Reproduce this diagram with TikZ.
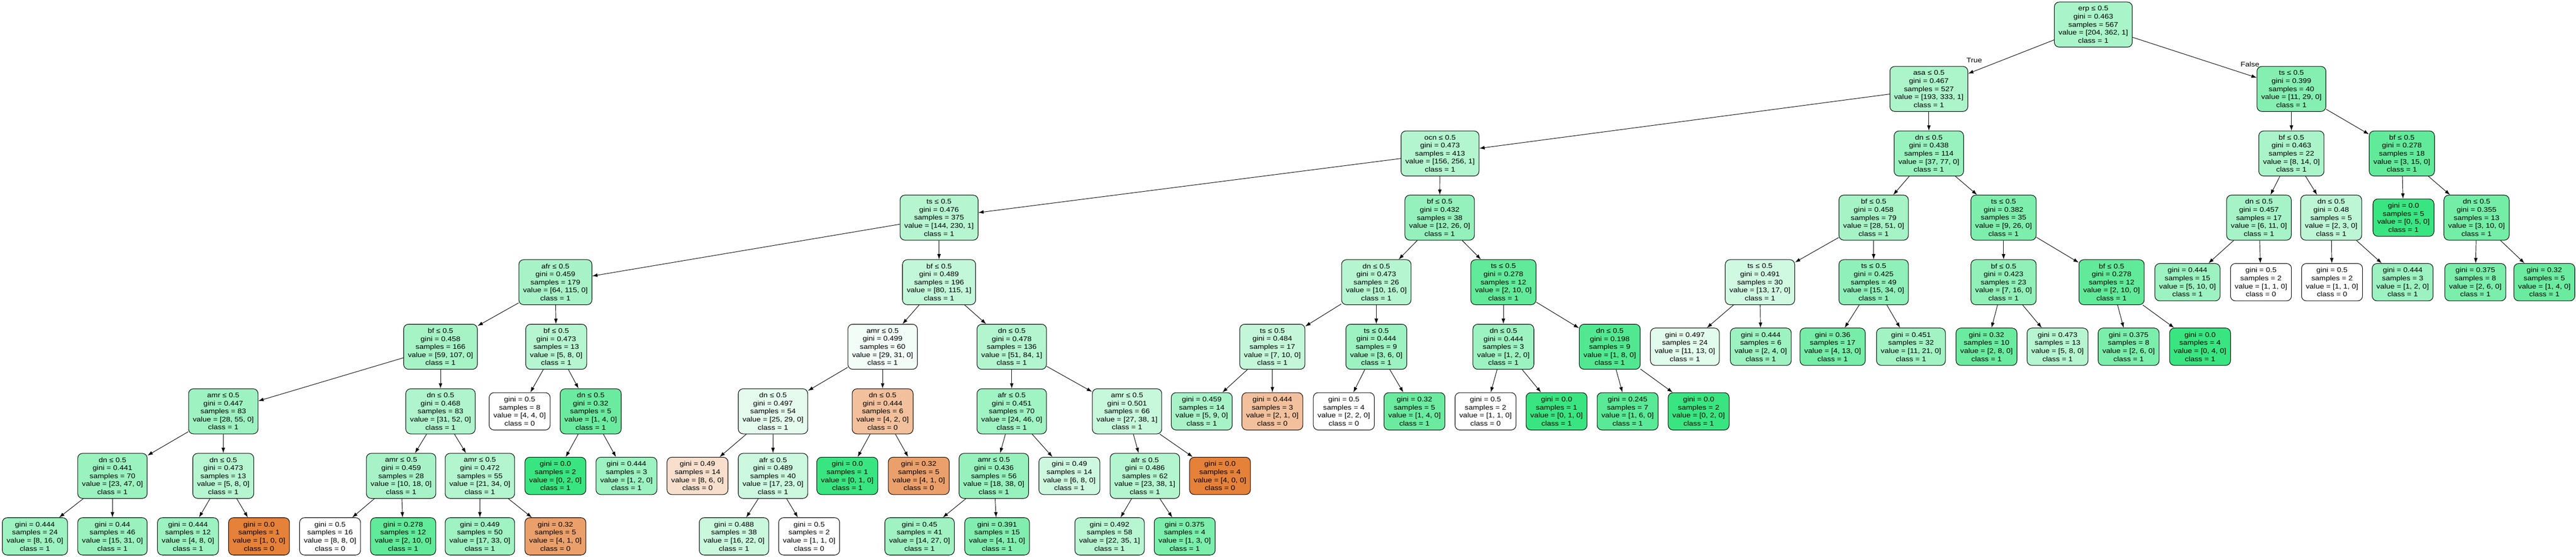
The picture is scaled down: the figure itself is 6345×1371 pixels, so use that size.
\documentclass[tikz,border=0pt]{standalone}
\usepackage{fontspec}
\setmainfont{Liberation Sans}[FakeStretch=1.14]
\usetikzlibrary{arrows.meta}
\definecolor{cg}{RGB}{57,229,129}
\definecolor{co}{RGB}{229,129,57}
\newcommand{\nodefnt}{\fontsize{8.25pt}{9.9pt}\selectfont}
\tikzset{
  tnode/.style={draw=black, line width=0.65pt, rounded corners=6pt, align=center,
    inner xsep=5.25pt, inner ysep=0pt, font=\nodefnt, text=black},
  split/.style={tnode, minimum height=55.5pt},
  leaf/.style={tnode, minimum height=46pt},
  conn/.style={-{Latex[length=6.5pt,width=4.5pt]}, line width=0.6pt, draw=black},
  elabel/.style={font=\nodefnt, inner sep=0pt}
}
\begin{document}
\begin{tikzpicture}[x=0.5pt, y=-0.5pt]
\useasboundingbox[fill=white] (0,0) rectangle (6345,1371);
% row 0
\node[split, fill=cg!43.5!white] (n0) at (5156,60.5) {erp ≤ 0.5\\gini = 0.463\\samples = 567\\value = [204, 362, 1]\\class = 1};
% row 1
\node[split, fill=cg!41.9!white] (n1) at (4751,219) {asa ≤ 0.5\\gini = 0.467\\samples = 527\\value = [193, 333, 1]\\class = 1};
\node[split, fill=cg!62.1!white] (n2) at (5644,219) {ts ≤ 0.5\\gini = 0.399\\samples = 40\\value = [11, 29, 0]\\class = 1};
% row 2
\node[split, fill=cg!38.9!white] (n3) at (3547,378) {ocn ≤ 0.5\\gini = 0.473\\samples = 413\\value = [156, 256, 1]\\class = 1};
\node[split, fill=cg!51.9!white] (n4) at (4751,378) {dn ≤ 0.5\\gini = 0.438\\samples = 114\\value = [37, 77, 0]\\class = 1};
\node[split, fill=cg!42.9!white] (n5) at (5644,378) {bf ≤ 0.5\\gini = 0.463\\samples = 22\\value = [8, 14, 0]\\class = 1};
\node[split, fill=cg!80!white] (n6) at (5916,378) {bf ≤ 0.5\\gini = 0.278\\samples = 18\\value = [3, 15, 0]\\class = 1};
% row 3
\node[split, fill=cg!37.2!white] (n7) at (2313,536) {ts ≤ 0.5\\gini = 0.476\\samples = 375\\value = [144, 230, 1]\\class = 1};
\node[split, fill=cg!53.8!white] (n8) at (3546,536) {bf ≤ 0.5\\gini = 0.432\\samples = 38\\value = [12, 26, 0]\\class = 1};
\node[split, fill=cg!45.1!white] (n9) at (4615,536) {bf ≤ 0.5\\gini = 0.458\\samples = 79\\value = [28, 51, 0]\\class = 1};
\node[split, fill=cg!65.4!white] (n10) at (4935,536) {ts ≤ 0.5\\gini = 0.382\\samples = 35\\value = [9, 26, 0]\\class = 1};
\node[split, fill=cg!45.5!white] (n11) at (5564,536) {dn ≤ 0.5\\gini = 0.457\\samples = 17\\value = [6, 11, 0]\\class = 1};
\node[split, fill=cg!33.3!white] (n12) at (5742,536) {dn ≤ 0.5\\gini = 0.48\\samples = 5\\value = [2, 3, 0]\\class = 1};
\node[leaf, fill=cg] (n13) at (5920,536) {gini = 0.0\\samples = 5\\value = [0, 5, 0]\\class = 1};
\node[split, fill=cg!70!white] (n14) at (6100,536) {dn ≤ 0.5\\gini = 0.355\\samples = 13\\value = [3, 10, 0]\\class = 1};
% row 4
\node[split, fill=cg!44.3!white] (n15) at (1368,695) {afr ≤ 0.5\\gini = 0.459\\samples = 179\\value = [64, 115, 0]\\class = 1};
\node[split, fill=cg!30.2!white] (n16) at (2313,695) {bf ≤ 0.5\\gini = 0.489\\samples = 196\\value = [80, 115, 1]\\class = 1};
\node[split, fill=cg!37.5!white] (n17) at (3390,695) {dn ≤ 0.5\\gini = 0.473\\samples = 26\\value = [10, 16, 0]\\class = 1};
\node[split, fill=cg!80!white] (n18) at (3703,695) {ts ≤ 0.5\\gini = 0.278\\samples = 12\\value = [2, 10, 0]\\class = 1};
\node[split, fill=cg!23.5!white] (n19) at (4335,695) {ts ≤ 0.5\\gini = 0.491\\samples = 30\\value = [13, 17, 0]\\class = 1};
\node[split, fill=cg!55.9!white] (n20) at (4615,695) {ts ≤ 0.5\\gini = 0.425\\samples = 49\\value = [15, 34, 0]\\class = 1};
\node[split, fill=cg!56.25!white] (n21) at (4935,695) {bf ≤ 0.5\\gini = 0.423\\samples = 23\\value = [7, 16, 0]\\class = 1};
\node[split, fill=cg!80!white] (n22) at (5201,695) {bf ≤ 0.5\\gini = 0.278\\samples = 12\\value = [2, 10, 0]\\class = 1};
\node[leaf, fill=cg!50!white] (n23) at (5388,695) {gini = 0.444\\samples = 15\\value = [5, 10, 0]\\class = 1};
\node[leaf, fill=white] (n24) at (5569,695) {gini = 0.5\\samples = 2\\value = [1, 1, 0]\\class = 0};
\node[leaf, fill=white] (n25) at (5744,695) {gini = 0.5\\samples = 2\\value = [1, 1, 0]\\class = 0};
\node[leaf, fill=cg!50!white] (n26) at (5918,695) {gini = 0.444\\samples = 3\\value = [1, 2, 0]\\class = 1};
\node[leaf, fill=cg!66.7!white] (n27) at (6097,695) {gini = 0.375\\samples = 8\\value = [2, 6, 0]\\class = 1};
\node[leaf, fill=cg!75!white] (n28) at (6267,695) {gini = 0.32\\samples = 5\\value = [1, 4, 0]\\class = 1};
% row 5
\node[split, fill=cg!44.9!white] (n29) at (1085,854) {bf ≤ 0.5\\gini = 0.458\\samples = 166\\value = [59, 107, 0]\\class = 1};
\node[split, fill=cg!37.5!white] (n30) at (1370,854) {bf ≤ 0.5\\gini = 0.473\\samples = 13\\value = [5, 8, 0]\\class = 1};
\node[split, fill=cg!6.45!white] (n31) at (2174,854) {amr ≤ 0.5\\gini = 0.499\\samples = 60\\value = [29, 31, 0]\\class = 1};
\node[split, fill=cg!38.8!white] (n32) at (2492,854) {dn ≤ 0.5\\gini = 0.478\\samples = 136\\value = [51, 84, 1]\\class = 1};
\node[split, fill=cg!30!white] (n33) at (3134,854) {ts ≤ 0.5\\gini = 0.484\\samples = 17\\value = [7, 10, 0]\\class = 1};
\node[split, fill=cg!50!white] (n34) at (3390,854) {ts ≤ 0.5\\gini = 0.444\\samples = 9\\value = [3, 6, 0]\\class = 1};
\node[split, fill=cg!50!white] (n35) at (3703,854) {dn ≤ 0.5\\gini = 0.444\\samples = 3\\value = [1, 2, 0]\\class = 1};
\node[split, fill=cg!87.5!white] (n36) at (3965,854) {dn ≤ 0.5\\gini = 0.198\\samples = 9\\value = [1, 8, 0]\\class = 1};
\node[leaf, fill=cg!15.4!white] (n37) at (4150,854) {gini = 0.497\\samples = 24\\value = [11, 13, 0]\\class = 1};
\node[leaf, fill=cg!50!white] (n38) at (4337,854) {gini = 0.444\\samples = 6\\value = [2, 4, 0]\\class = 1};
\node[leaf, fill=cg!69.2!white] (n39) at (4514,854) {gini = 0.36\\samples = 17\\value = [4, 13, 0]\\class = 1};
\node[leaf, fill=cg!47.6!white] (n40) at (4707,854) {gini = 0.451\\samples = 32\\value = [11, 21, 0]\\class = 1};
\node[leaf, fill=cg!75!white] (n41) at (4893,854) {gini = 0.32\\samples = 10\\value = [2, 8, 0]\\class = 1};
\node[leaf, fill=cg!37.5!white] (n42) at (5068,854) {gini = 0.473\\samples = 13\\value = [5, 8, 0]\\class = 1};
\node[leaf, fill=cg!66.7!white] (n43) at (5243,854) {gini = 0.375\\samples = 8\\value = [2, 6, 0]\\class = 1};
\node[leaf, fill=cg] (n44) at (5419,854) {gini = 0.0\\samples = 4\\value = [0, 4, 0]\\class = 1};
% row 6
\node[split, fill=cg!49.1!white] (n45) at (550,1013) {amr ≤ 0.5\\gini = 0.447\\samples = 83\\value = [28, 55, 0]\\class = 1};
\node[split, fill=cg!40.4!white] (n46) at (1085,1013) {dn ≤ 0.5\\gini = 0.468\\samples = 83\\value = [31, 52, 0]\\class = 1};
\node[leaf, fill=white] (n47) at (1280,1013) {gini = 0.5\\samples = 8\\value = [4, 4, 0]\\class = 0};
\node[split, fill=cg!75!white] (n48) at (1455,1013) {dn ≤ 0.5\\gini = 0.32\\samples = 5\\value = [1, 4, 0]\\class = 1};
\node[split, fill=cg!13.8!white] (n49) at (1904,1013) {dn ≤ 0.5\\gini = 0.497\\samples = 54\\value = [25, 29, 0]\\class = 1};
\node[split, fill=co!50!white] (n50) at (2174,1013) {dn ≤ 0.5\\gini = 0.444\\samples = 6\\value = [4, 2, 0]\\class = 0};
\node[split, fill=cg!47.8!white] (n51) at (2492,1013) {afr ≤ 0.5\\gini = 0.451\\samples = 70\\value = [24, 46, 0]\\class = 1};
\node[split, fill=cg!28.2!white] (n52) at (2776,1013) {amr ≤ 0.5\\gini = 0.501\\samples = 66\\value = [27, 38, 1]\\class = 1};
\node[leaf, fill=cg!44.4!white] (n53) at (2960,1013) {gini = 0.459\\samples = 14\\value = [5, 9, 0]\\class = 1};
\node[leaf, fill=co!50!white] (n54) at (3134,1013) {gini = 0.444\\samples = 3\\value = [2, 1, 0]\\class = 0};
\node[leaf, fill=white] (n55) at (3310,1013) {gini = 0.5\\samples = 4\\value = [2, 2, 0]\\class = 0};
\node[leaf, fill=cg!75!white] (n56) at (3484,1013) {gini = 0.32\\samples = 5\\value = [1, 4, 0]\\class = 1};
\node[leaf, fill=white] (n57) at (3659,1013) {gini = 0.5\\samples = 2\\value = [1, 1, 0]\\class = 0};
\node[leaf, fill=cg] (n58) at (3834,1013) {gini = 0.0\\samples = 1\\value = [0, 1, 0]\\class = 1};
\node[leaf, fill=cg!83.3!white] (n59) at (4009,1013) {gini = 0.245\\samples = 7\\value = [1, 6, 0]\\class = 1};
\node[leaf, fill=cg] (n60) at (4184,1013) {gini = 0.0\\samples = 2\\value = [0, 2, 0]\\class = 1};
% row 7
\node[split, fill=cg!51.1!white] (n61) at (277,1172) {dn ≤ 0.5\\gini = 0.441\\samples = 70\\value = [23, 47, 0]\\class = 1};
\node[split, fill=cg!37.5!white] (n62) at (550,1172) {dn ≤ 0.5\\gini = 0.473\\samples = 13\\value = [5, 8, 0]\\class = 1};
\node[split, fill=cg!44.4!white] (n63) at (988,1172) {amr ≤ 0.5\\gini = 0.459\\samples = 28\\value = [10, 18, 0]\\class = 1};
\node[split, fill=cg!38.2!white] (n64) at (1182,1172) {amr ≤ 0.5\\gini = 0.472\\samples = 55\\value = [21, 34, 0]\\class = 1};
\node[leaf, fill=cg] (n65) at (1368,1172) {gini = 0.0\\samples = 2\\value = [0, 2, 0]\\class = 1};
\node[leaf, fill=cg!50!white] (n66) at (1543,1172) {gini = 0.444\\samples = 3\\value = [1, 2, 0]\\class = 1};
\node[leaf, fill=co!25!white] (n67) at (1718,1172) {gini = 0.49\\samples = 14\\value = [8, 6, 0]\\class = 0};
\node[split, fill=cg!26.1!white] (n68) at (1904,1172) {afr ≤ 0.5\\gini = 0.489\\samples = 40\\value = [17, 23, 0]\\class = 1};
\node[leaf, fill=cg] (n69) at (2087,1172) {gini = 0.0\\samples = 1\\value = [0, 1, 0]\\class = 1};
\node[leaf, fill=co!75!white] (n70) at (2263,1172) {gini = 0.32\\samples = 5\\value = [4, 1, 0]\\class = 0};
\node[split, fill=cg!52.6!white] (n71) at (2448,1172) {amr ≤ 0.5\\gini = 0.436\\samples = 56\\value = [18, 38, 0]\\class = 1};
\node[leaf, fill=cg!25!white] (n72) at (2634,1172) {gini = 0.49\\samples = 14\\value = [6, 8, 0]\\class = 1};
\node[split, fill=cg!38.5!white] (n73) at (2820,1172) {afr ≤ 0.5\\gini = 0.486\\samples = 62\\value = [23, 38, 1]\\class = 1};
\node[leaf, fill=co] (n74) at (3005,1172) {gini = 0.0\\samples = 4\\value = [4, 0, 0]\\class = 0};
% row 8
\node[leaf, fill=cg!50!white] (n75) at (86,1321) {gini = 0.444\\samples = 24\\value = [8, 16, 0]\\class = 1};
\node[leaf, fill=cg!51.6!white] (n76) at (277,1321) {gini = 0.44\\samples = 46\\value = [15, 31, 0]\\class = 1};
\node[leaf, fill=cg!50!white] (n77) at (463,1321) {gini = 0.444\\samples = 12\\value = [4, 8, 0]\\class = 1};
\node[leaf, fill=co] (n78) at (638,1321) {gini = 0.0\\samples = 1\\value = [1, 0, 0]\\class = 0};
\node[leaf, fill=white] (n79) at (813,1321) {gini = 0.5\\samples = 16\\value = [8, 8, 0]\\class = 0};
\node[leaf, fill=cg!80!white] (n80) at (993,1321) {gini = 0.278\\samples = 12\\value = [2, 10, 0]\\class = 1};
\node[leaf, fill=cg!48.5!white] (n81) at (1182,1321) {gini = 0.449\\samples = 50\\value = [17, 33, 0]\\class = 1};
\node[leaf, fill=co!75!white] (n82) at (1368,1321) {gini = 0.32\\samples = 5\\value = [4, 1, 0]\\class = 0};
\node[leaf, fill=cg!27.3!white] (n83) at (1808,1321) {gini = 0.488\\samples = 38\\value = [16, 22, 0]\\class = 1};
\node[leaf, fill=white] (n84) at (1993,1321) {gini = 0.5\\samples = 2\\value = [1, 1, 0]\\class = 0};
\node[leaf, fill=cg!48.1!white] (n85) at (2265,1321) {gini = 0.45\\samples = 41\\value = [14, 27, 0]\\class = 1};
\node[leaf, fill=cg!63.6!white] (n86) at (2456,1321) {gini = 0.391\\samples = 15\\value = [4, 11, 0]\\class = 1};
\node[leaf, fill=cg!36.1!white] (n87) at (2733,1321) {gini = 0.492\\samples = 58\\value = [22, 35, 1]\\class = 1};
\node[leaf, fill=cg!66.7!white] (n88) at (2918,1321) {gini = 0.375\\samples = 4\\value = [1, 3, 0]\\class = 1};
% edges
\foreach \p/\c in {n0/n1, n0/n2, n1/n3, n1/n4, n2/n5, n2/n6, n3/n7, n3/n8, n4/n9, n4/n10,
  n5/n11, n5/n12, n6/n13, n6/n14, n7/n15, n7/n16, n8/n17, n8/n18, n9/n19, n9/n20,
  n10/n21, n10/n22, n11/n23, n11/n24, n12/n25, n12/n26, n14/n27, n14/n28,
  n15/n29, n15/n30, n16/n31, n16/n32, n17/n33, n17/n34, n18/n35, n18/n36,
  n19/n37, n19/n38, n20/n39, n20/n40, n21/n41, n21/n42, n22/n43, n22/n44,
  n29/n45, n29/n46, n30/n47, n30/n48, n31/n49, n31/n50, n32/n51, n32/n52,
  n33/n53, n33/n54, n34/n55, n34/n56, n35/n57, n35/n58, n36/n59, n36/n60,
  n45/n61, n45/n62, n46/n63, n46/n64, n48/n65, n48/n66, n49/n67, n49/n68,
  n50/n69, n50/n70, n51/n71, n51/n72, n52/n73, n52/n74,
  n61/n75, n61/n76, n62/n77, n62/n78, n63/n79, n63/n80, n64/n81, n64/n82,
  n68/n83, n68/n84, n71/n85, n71/n86, n73/n87, n73/n88}
  \draw[conn] (\p) -- (\c);
\node[elabel] (ltrue) at (4863,148) {True};
\node[elabel] (lfalse) at (5542,159) {False};
\end{tikzpicture}
\end{document}
